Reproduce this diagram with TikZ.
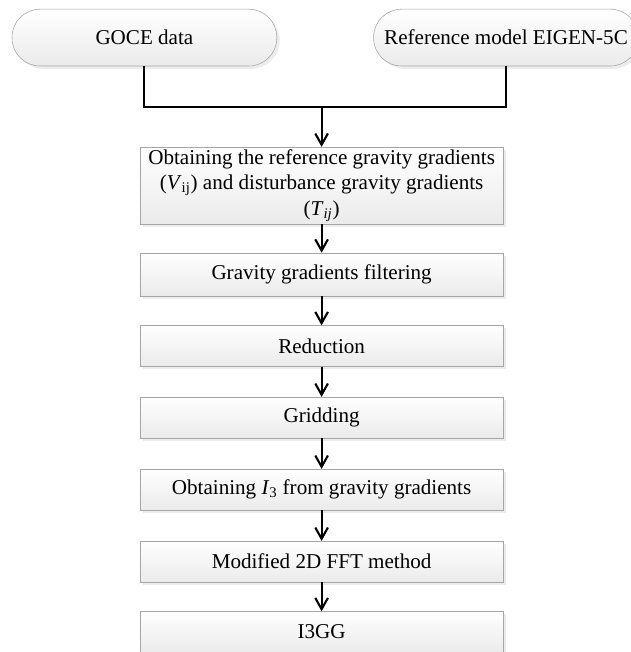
\documentclass[tikz,border=0pt]{standalone}
\usepackage{fontspec}
\setmainfont{Liberation Serif}
\usepackage{tikz}
\usetikzlibrary{arrows.meta, shadows}

\begin{document}
\begin{tikzpicture}[
  font=\fontsize{15}{18}\selectfont,
  source/.style={rectangle, draw=gray!70, rounded corners=0.7cm, minimum width=6.62cm, minimum height=1.42cm, top color=white, bottom color=gray!16, drop shadow={opacity=0.15, shadow xshift=2pt, shadow yshift=-2pt}},
  stepbox/.style={rectangle, draw=gray!70, minimum width=9.07cm, minimum height=1.02cm, align=center, inner sep=1pt, top color=white, bottom color=gray!16, drop shadow={opacity=0.15, shadow xshift=2pt, shadow yshift=-2pt}},
  link/.style={line width=1.5pt},
  arrow/.style={line width=1.5pt, -{Straight Barb[length=8pt, width=9pt, line width=1.5pt]}}
]
\useasboundingbox (0,0) rectangle (15.75,-16.3);

% Input nodes
\node[source] (goce) at (3.61, -0.94) {GOCE data};
\node[source] (refmodel) at (12.65, -0.94) {Reference model EIGEN-5C};

% Processing steps
\node[stepbox, minimum height=1.92cm] (obtain) at (8.04, -4.64) {Obtaining the reference gravity gradients\\(\textit{V}\textsubscript{ij}) and disturbance gravity gradients\\(\textit{T}\textsubscript{\textit{ij}})};
\node[stepbox, minimum height=1.07cm] (filter) at (8.04, -6.86) {Gravity gradients filtering};
\node[stepbox] (reduce) at (8.04, -8.65) {Reduction};
\node[stepbox] (grid) at (8.04, -10.44) {Gridding};
\node[stepbox] (invar) at (8.04, -12.24) {Obtaining \textit{I}\textsubscript{3} from gravity gradients};
\node[stepbox] (fft) at (8.04, -14.04) {Modified 2D FFT method};
\node[stepbox] (result) at (8.04, -15.8) {I3GG};

% Merge the two inputs
\coordinate (join) at (8.04, -2.68);
\draw[link] (goce.south) |- (join) -| (refmodel.south);
\draw[arrow] (join) -- (obtain);

% Chain of steps
\draw[arrow] (obtain) -- (filter);
\draw[arrow] (filter) -- (reduce);
\draw[arrow] (reduce) -- (grid);
\draw[arrow] (grid) -- (invar);
\draw[arrow] (invar) -- (fft);
\draw[arrow] (fft) -- (result);

\end{tikzpicture}
\end{document}
